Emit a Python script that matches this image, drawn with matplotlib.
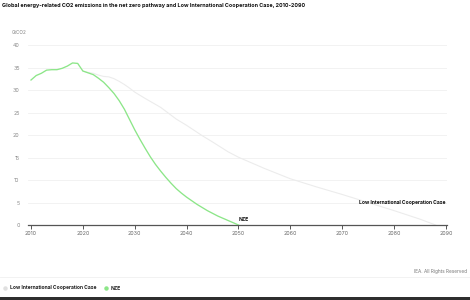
import matplotlib
matplotlib.use("Agg")
import matplotlib.pyplot as plt
from matplotlib.patches import Rectangle

plt.rcParams['font.family'] = ['Inter', 'DejaVu Sans']

title = "Global energy-related CO2 emissions in the net zero pathway and Low International Cooperation Case, 2010-2090"
unit = "GtCO2"
credit = "IEA. All Rights Reserved"

nze_years = list(range(2010, 2051))
nze_vals = [32.3, 33.3, 33.8, 34.5, 34.6, 34.6, 34.9, 35.4, 36.1, 36.0,
            34.3, 33.9, 33.5, 32.7, 31.8, 30.6, 29.3, 27.7, 25.8, 23.5,
            21.2, 19.1, 17.1, 15.2, 13.5, 12.0, 10.6, 9.3, 8.1, 7.1,
            6.2, 5.4, 4.6, 3.9, 3.2, 2.6, 2.0, 1.5, 1.0, 0.5, 0.0]

lic_years = [2020, 2021, 2022, 2023, 2024, 2025, 2026, 2027, 2028, 2029, 2030,
             2032, 2035, 2038, 2040, 2043, 2045, 2048, 2050, 2055, 2060,
             2065, 2070, 2075, 2080, 2085, 2088]
lic_vals = [34.3, 34.0, 33.8, 33.4, 33.1, 33.0, 32.6, 32.0, 31.3, 30.5, 29.6,
            28.2, 26.2, 23.6, 22.2, 19.9, 18.5, 16.3, 15.1, 12.6, 10.3,
            8.5, 6.8, 5.0, 3.2, 1.3, 0.0]

xticks = [2010, 2020, 2030, 2040, 2050, 2060, 2070, 2080, 2090]
yticks = [0, 5, 10, 15, 20, 25, 30, 35, 40]

W, H = 470, 300
fig = plt.figure(figsize=(W / 100, H / 100), dpi=100)

# axes placement in pixels
ax_l, ax_r = 28, 447
ax_b, ax_t = 225, 45
ax = fig.add_axes([ax_l / W, (H - ax_b) / H, (ax_r - ax_l) / W, (ax_b - ax_t) / H])
ax.set_xlim(2009.42, 2090.2)
ax.set_ylim(0, 40.1)

ax.plot(lic_years, lic_vals, color='#ececec', lw=0.8, zorder=2)
ax.plot(nze_years, nze_vals, color='#8ce688', lw=0.95, zorder=3)

ax.set_xticks(xticks)
ax.set_xticklabels([str(x) for x in xticks])
ax.set_yticks(yticks)
ax.set_yticklabels([str(y) for y in yticks])
ax.grid(axis='y', color='#f0f0f0', lw=0.6)
ax.set_axisbelow(True)
for s in ['top', 'right', 'left']:
    ax.spines[s].set_visible(False)
ax.spines['bottom'].set_color('#555555')
ax.spines['bottom'].set_linewidth(0.9)
ax.tick_params(axis='x', length=3, width=0.7, color='#555555', labelsize=3.8,
               labelcolor='#666666', pad=1.5)
ax.tick_params(axis='y', length=0, labelsize=3.8, labelcolor='#888888', pad=6)

ax.text(2050, 0.6, "NZE", fontsize=3.6, fontweight='bold', color='#111111',
        ha='left', va='bottom')
ax.text(2090, 5.0, "Low International Cooperation Case", fontsize=3.6,
        fontweight='bold', color='#111111', ha='right', va='center')

# title
fig.text(2 / W, 1 - 6 / H, title, fontsize=3.9, fontweight='bold',
         color='#111111', ha='left', va='center')
fig.text(12 / W, 1 - 32 / H, unit, fontsize=3.4, color='#888888',
         ha='left', va='center')
fig.text(467 / W, 1 - 272 / H, credit, fontsize=3.4, color='#777777',
         ha='right', va='center')

# separator line
fig.add_artist(plt.Line2D([0, 1], [1 - 277 / H, 1 - 277 / H], color='#f0f0f0', lw=0.6))

# legend row
fig.add_artist(plt.Line2D([5 / W], [1 - 288 / H], marker='o', ms=2.2,
                          color='#e0e0e0', lw=0))
fig.text(10 / W, 1 - 288 / H, "Low International Cooperation Case", fontsize=3.6,
         fontweight='bold', color='#222222', ha='left', va='center')
fig.add_artist(plt.Line2D([106 / W], [1 - 288 / H], marker='o', ms=2.2,
                          color='#8ce688', lw=0))
fig.text(111 / W, 1 - 288 / H, "NZE", fontsize=3.6, fontweight='bold',
         color='#222222', ha='left', va='center')

# dark band at bottom
fig.add_artist(Rectangle((0, 0), 1, 3.5 / H, transform=fig.transFigure,
                         color='#2e2e2e', lw=0))

fig.savefig("out.png", dpi=100)
